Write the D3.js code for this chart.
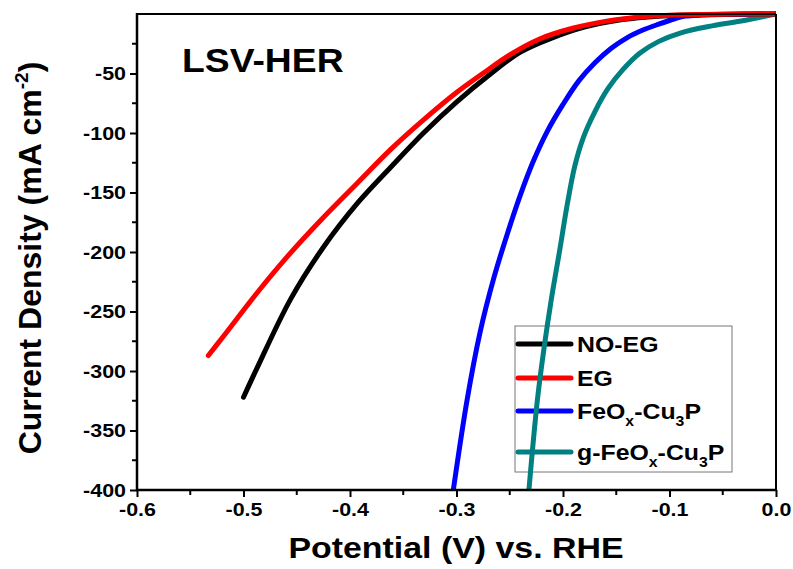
<!DOCTYPE html>
<html>
<head>
<meta charset="utf-8">
<script src="https://cdn.jsdelivr.net/npm/d3@7"></script>
<style>
  html, body { margin: 0; padding: 0; background: #fff; }
  svg { display: block; font-family: "Liberation Sans", Arial, sans-serif; font-weight: bold; }
</style>
</head>
<body>
<svg id="chart" width="793" height="569"></svg>
<script>
// ---- data ----
const xTicks = [-0.6, -0.5, -0.4, -0.3, -0.2, -0.1, 0.0];
const yTicks = [-50, -100, -150, -200, -250, -300, -350, -400];

const potNOEG = [-0.500, -0.487, -0.456, -0.425, -0.393, -0.362, -0.331, -0.300, -0.269, -0.240, -0.210, -0.180, -0.150, -0.120, -0.090, -0.060, -0.030, 0.000];
const curNOEG = [-322, -297, -240, -196, -159, -129, -100, -74, -51, -32, -20, -11, -5.5, -2.6, -1.1, -0.4, -0.1, 0];

const potEG = [-0.533, -0.519, -0.487, -0.456, -0.425, -0.393, -0.362, -0.331, -0.300, -0.269, -0.253, -0.222, -0.191, -0.159, -0.128, -0.100, -0.070, -0.030, 0.000];
const curEG = [-287, -271, -234, -201, -171, -142, -114, -89, -66, -46, -36, -21, -12, -6, -2.5, -1, -0.4, -0.1, 0];

const potFeOx = [-0.303, -0.290, -0.278, -0.265, -0.252, -0.240, -0.228, -0.215, -0.200, -0.185, -0.170, -0.155, -0.140, -0.125, -0.110, -0.095, -0.085, -0.070, -0.040, 0.000];
const curFeOx = [-400, -324, -268, -222, -184, -152, -124, -99, -76, -56, -41, -29, -20, -13.5, -8.5, -4, -1.8, -0.9, -0.4, 0];

const potGFeOx = [-0.232, -0.224, -0.218, -0.211, -0.203, -0.196, -0.189, -0.181, -0.170, -0.158, -0.144, -0.128, -0.110, -0.090, -0.060, -0.030, 0.000];
const curGFeOx = [-400, -324, -282, -240, -198, -160, -128, -104, -82, -63, -47, -33, -23, -16, -10, -5.5, 0];

const seriesNames = ["NO-EG", "EG", "FeOx-Cu3P", "g-FeOx-Cu3P"];
const seriesColors = ["#000000", "#ff0000", "#0000ff", "#008080"];

// ---- layout ----
const svg = d3.select("#chart");
const pL = 137, pR = 776, pT = 14, pB = 490;
const SX = 1.13; // horizontal text stretch seen in the reference

const x = d3.scaleLinear().domain([-0.6, 0]).range([pL, pR]);
const y = d3.scaleLinear().domain([-400, 0]).range([pB, pT]);

function label(px, py, size, anchor) {
  return svg.append("text")
    .attr("transform", `translate(${px},${py}) scale(${SX},1)`)
    .attr("font-size", size).attr("text-anchor", anchor || "start");
}

// legend (drawn under the curves)
const lgX = 515, lgY = 326, lgW = 217, lgH = 146;
svg.append("rect").attr("x", lgX).attr("y", lgY).attr("width", lgW).attr("height", lgH)
  .attr("fill", "none").attr("stroke", "#777").attr("stroke-width", 1);
const rowsY = [344, 378, 411, 452];
seriesNames.forEach((name, i) => {
  svg.append("line").attr("x1", 518).attr("x2", 571).attr("y1", rowsY[i]).attr("y2", rowsY[i])
    .attr("stroke", seriesColors[i]).attr("stroke-width", 5).attr("stroke-linecap", "round");
  const t = label(577, rowsY[i] + 8, 22);
  const m = name.match(/^(.*FeO)x(-Cu)3(P)$/);
  if (m) {
    t.append("tspan").text(m[1]);
    t.append("tspan").attr("font-size", 14).attr("dy", 7).text("x");
    t.append("tspan").attr("dy", -7).text(m[2]);
    t.append("tspan").attr("font-size", 14).attr("dy", 7).text("3");
    t.append("tspan").attr("dy", -7).text(m[3]);
  } else {
    t.text(name);
  }
});

// clip
svg.append("defs").append("clipPath").attr("id", "clip")
  .append("rect").attr("x", pL).attr("y", pT - 3).attr("width", pR - pL).attr("height", pB - pT + 3);

// curves
const seriesData = [
  d3.zip(potNOEG, curNOEG),
  d3.zip(potEG, curEG),
  d3.zip(potFeOx, curFeOx),
  d3.zip(potGFeOx, curGFeOx)
];
const line = d3.line().x(d => x(d[0])).y(d => y(d[1])).curve(d3.curveCatmullRom.alpha(0.5));
const drawOrder = [2, 3, 0, 1];
svg.append("g").attr("clip-path", "url(#clip)")
  .selectAll("path").data(drawOrder).join("path")
  .attr("d", i => line(seriesData[i]))
  .attr("fill", "none")
  .attr("stroke", i => seriesColors[i])
  .attr("stroke-width", 5)
  .attr("stroke-linecap", "round")
  .attr("stroke-linejoin", "round");

// frame top & right
svg.append("line").attr("x1", pL).attr("x2", pR).attr("y1", pT).attr("y2", pT)
  .attr("stroke", "#000").attr("stroke-width", 2);
svg.append("line").attr("x1", pR).attr("x2", pR).attr("y1", pT).attr("y2", pB)
  .attr("stroke", "#000").attr("stroke-width", 2);

// x axis
const xMinor = d3.range(-0.55, 0, 0.1);
const xAxisG = svg.append("g").attr("transform", `translate(0,${pB})`)
  .call(d3.axisBottom(x).tickValues(xTicks)
    .tickFormat(d => d3.format(".1f")(d).replace("\u2212", "-"))
    .tickSize(7).tickSizeOuter(0).tickPadding(6));
xAxisG.append("g").selectAll("line").data(xMinor).join("line")
  .attr("x1", d => x(d)).attr("x2", d => x(d)).attr("y1", 0).attr("y2", 5)
  .attr("stroke", "#000").attr("stroke-width", 2);

// y axis
const yMinor = d3.range(-375, 0, 50);
const yAxisG = svg.append("g").attr("transform", `translate(${pL},0)`)
  .call(d3.axisLeft(y).tickValues(yTicks).tickFormat(d => String(d))
    .tickSize(7).tickSizeOuter(0).tickPadding(4));
yAxisG.append("g").selectAll("line").data(yMinor).join("line")
  .attr("x1", 0).attr("x2", -5).attr("y1", d => y(d)).attr("y2", d => y(d))
  .attr("stroke", "#000").attr("stroke-width", 2);

[xAxisG, yAxisG].forEach(g => {
  g.select(".domain").attr("stroke-width", 2.5);
  g.selectAll(".tick line").attr("stroke-width", 2);
  g.selectAll(".tick text").attr("font-size", 19).attr("font-weight", "bold")
    .attr("font-family", "Liberation Sans, Arial, sans-serif").attr("fill", "#000")
    .attr("transform", `scale(${SX},1)`);
});
yAxisG.selectAll(".tick text").attr("x", -11 / SX);
xAxisG.select(".domain").attr("d", `M${pL - 1},0H${pR + 1}`);
yAxisG.select(".domain").attr("d", `M0,${pT - 1}V${pB + 1}`);

// axis titles
label(456, 558, 30, "middle").text("Potential (V) vs. RHE");

const yt = svg.append("text").attr("transform", "translate(41,258) rotate(-90)")
  .attr("text-anchor", "middle").attr("font-size", 32);
yt.append("tspan").text("Current Density (mA cm");
yt.append("tspan").attr("font-size", 19).attr("dy", -13).text("-2");
yt.append("tspan").attr("dy", 13).text(")");

// inset label
label(182, 72, 33).text("LSV-HER");
</script>
</body>
</html>
